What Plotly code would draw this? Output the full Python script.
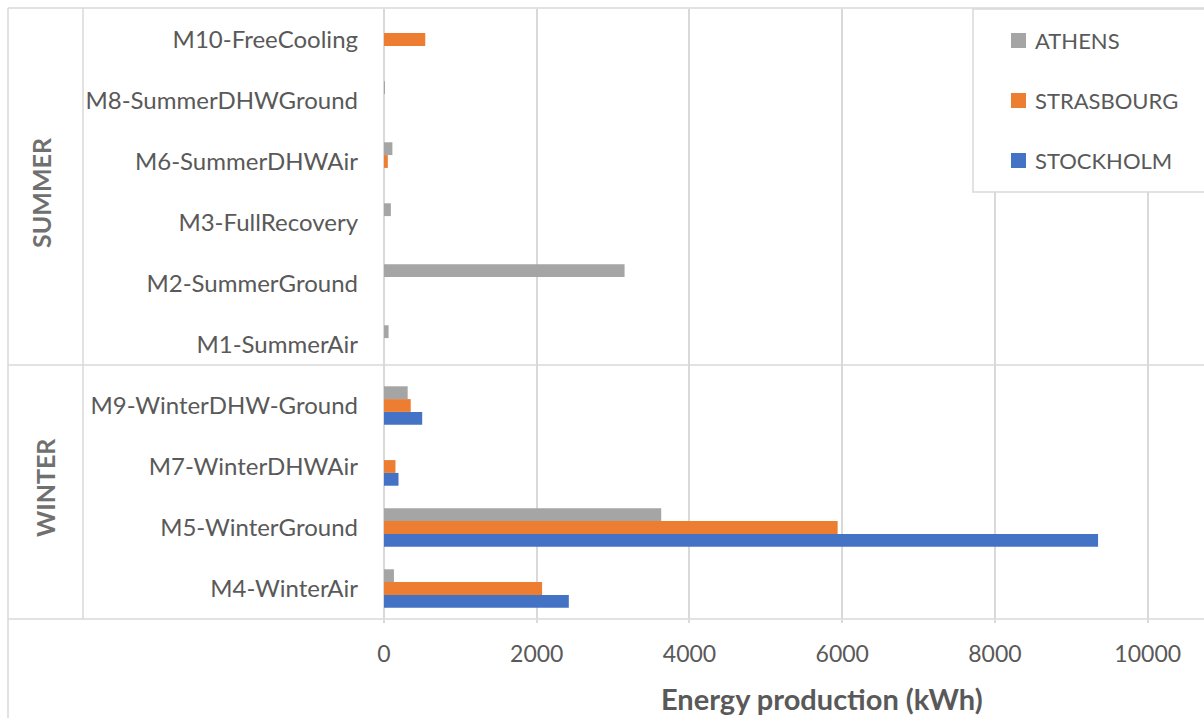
import plotly.graph_objects as go

# Operating modes, listed bottom-to-top on the category axis
modes = [
    "M4-WinterAir", "M5-WinterGround", "M7-WinterDHWAir", "M9-WinterDHW-Ground",
    "M1-SummerAir", "M2-SummerGround", "M3-FullRecovery", "M6-SummerDHWAir",
    "M8-SummerDHWGround", "M10-FreeCooling",
]

# Energy production per city (kWh)
stockholm = [2420, 9350, 190, 500, 0, 0, 0, 0, 0, 0]
strasbourg = [2070, 5940, 150, 350, 0, 0, 0, 50, 0, 540]
athens = [130, 3630, 0, 310, 60, 3150, 90, 110, 10, 0]

x_ticks = [0, 2000, 4000, 6000, 8000, 10000]
x_max = 10737

seasons = ["SUMMER", "WINTER"]
cities = ["ATHENS", "STRASBOURG", "STOCKHOLM"]
colors = {"ATHENS": "#A5A5A5", "STRASBOURG": "#ED7D31", "STOCKHOLM": "#4472C4"}

W, H = 1204, 718
L, R, T, B = 384, 0, 9, 99
PW, PH = W - L - R, H - T - B
GRID = "#D9D9D9"
TXT = "#595959"
FONT = "Lato"


def px(x):
    return (x - L) / PW


def py(y):
    return (H - B - y) / PH


fig = go.Figure()
series = {"STOCKHOLM": stockholm, "STRASBOURG": strasbourg, "ATHENS": athens}
for name in ["STOCKHOLM", "STRASBOURG", "ATHENS"]:
    fig.add_trace(go.Bar(
        y=modes, x=series[name], name=name, orientation="h",
        marker=dict(color=colors[name], line=dict(width=0)),
        showlegend=False,
    ))

shapes = []
line = dict(color=GRID, width=1.5)
# outer frame (top and left), bottom axis line, season separator, season column line
shapes.append(dict(type="line", xref="paper", yref="paper", x0=px(8), x1=px(W + 5), y0=py(8), y1=py(8), line=line))
shapes.append(dict(type="line", xref="paper", yref="paper", x0=px(8), x1=px(8), y0=py(8), y1=py(H + 5), line=line))
shapes.append(dict(type="line", xref="paper", yref="paper", x0=px(8), x1=px(W + 5), y0=0, y1=0, line=line))
shapes.append(dict(type="line", xref="paper", yref="paper", x0=px(8), x1=px(W + 5), y0=py(365), y1=py(365), line=line))
shapes.append(dict(type="line", xref="paper", yref="paper", x0=px(83), x1=px(83), y0=0, y1=py(8), line=line))

# legend box
shapes.append(dict(type="rect", xref="paper", yref="paper", x0=px(973), x1=px(W + 5), y0=py(192), y1=py(9),
                   line=dict(color=GRID, width=1.5), fillcolor="white", layer="above"))

annotations = []
legend_rows = [40, 100, 160]
for name, yc in zip(cities, legend_rows):
    shapes.append(dict(type="rect", xref="paper", yref="paper", x0=px(1011), x1=px(1026),
                       y0=py(yc + 8), y1=py(yc - 7), line=dict(width=0),
                       fillcolor=colors[name], layer="above"))
    annotations.append(dict(text=name, xref="paper", yref="paper", x=px(1033), y=py(yc),
                            xanchor="left", yanchor="middle", showarrow=False,
                            font=dict(family=FONT, size=22, color=TXT)))

# season group labels
for label, yc, xc in zip(seasons, [193, 488], [41, 45]):
    annotations.append(dict(text=label, xref="paper", yref="paper", x=px(xc), y=py(yc),
                            xanchor="center", yanchor="middle", showarrow=False, textangle=-90,
                            font=dict(family=FONT, size=25, color="#707070", weight="bold")))

# axis title
annotations.append(dict(text="Energy production (kWh)", xref="paper", yref="paper", x=px(822), y=py(698),
                        xanchor="center", yanchor="middle", showarrow=False,
                        font=dict(family=FONT, size=29, color=TXT, weight="bold")))

fig.update_layout(
    width=W, height=H,
    margin=dict(l=L, r=R, t=T, b=B, pad=0),
    paper_bgcolor="white", plot_bgcolor="white",
    barmode="group", bargap=0.37, bargroupgap=0,
    showlegend=False,
    shapes=shapes, annotations=annotations,
    font=dict(family=FONT, color=TXT),
)
fig.update_xaxes(
    range=[0, x_max], tickvals=x_ticks, ticktext=[str(v) for v in x_ticks],
    showgrid=True, gridcolor=GRID, gridwidth=1.5,
    zeroline=True, zerolinecolor=GRID, zerolinewidth=1.5,
    showline=False, ticks="outside", ticklen=3, tickcolor=GRID, tickwidth=1.5,
    tickfont=dict(family=FONT, size=23, color=TXT), ticklabelstandoff=11,
)
fig.update_yaxes(
    type="category", categoryorder="array", categoryarray=modes,
    range=[-0.5, len(modes) - 0.5],
    showgrid=False, zeroline=False, showline=False, ticks="",
    tickfont=dict(family=FONT, size=24, color=TXT), ticklabelstandoff=25,
)

fig.write_html("out.html")
